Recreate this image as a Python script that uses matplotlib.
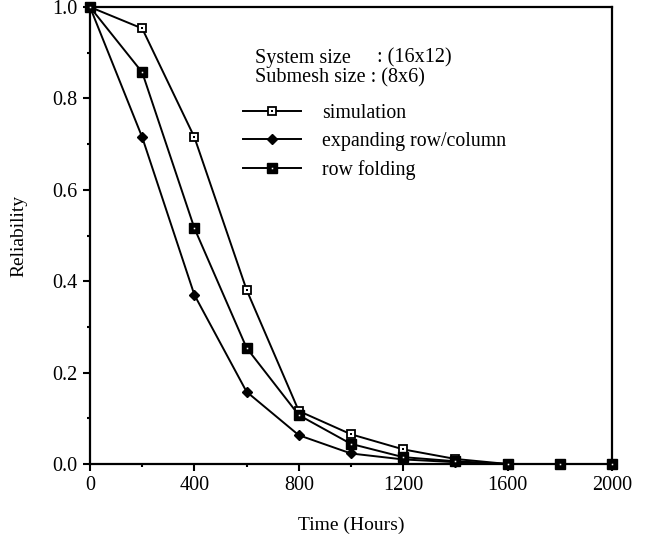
import numpy as np
from matplotlib import pyplot as plt
from matplotlib.lines import Line2D

# reliability curves, mesh 16x12, submesh 8x6
hours = [0, 200, 400, 600, 800, 1000, 1200, 1400, 1600, 1800, 2000]
simulation = [1.0, 0.953, 0.715, 0.381, 0.116, 0.065, 0.032, 0.011, 0.0, 0.0, 0.0]
expanding = [1.0, 0.715, 0.370, 0.158, 0.063, 0.023, 0.010, 0.004, 0.0, 0.0, 0.0]
folding = [1.0, 0.857, 0.516, 0.254, 0.107, 0.044, 0.015, 0.006, 0.0, 0.0, 0.0]

plt.rcParams['font.family'] = 'Liberation Serif'

fig = plt.figure(figsize=(6.52, 5.4), dpi=100)
ax = fig.add_axes([90/652, 1 - 464/540, 522/652, 457/540])

sim_style = dict(color='black', lw=1.4, marker='s', ms=6.3, mfc='white', mec='black', mew=1.3)
sim_dot = dict(ls='none', marker='s', ms=1.6, mew=0, color='black')
exp_style = dict(color='black', lw=1.4, marker='D', ms=5.5, mfc='black', mec='black')
fold_style = dict(color='black', lw=1.4, marker='s', ms=6.5, mfc='black', mec='black')
fold_dot = dict(ls='none', marker='s', ms=1.1, mew=0, color='white')

ax.plot(hours, expanding, zorder=3, clip_on=False, **exp_style)
ax.plot(hours, simulation, zorder=4, clip_on=False, **sim_style)
ax.plot(hours, simulation, zorder=5, clip_on=False, **sim_dot)
ax.plot(hours, folding, zorder=6, clip_on=False, **fold_style)
ax.plot(hours, folding, zorder=7, clip_on=False, **fold_dot)

ax.set_xlim(0, 2000)
ax.set_ylim(0, 1.0)
ax.set_xticks([0, 400, 800, 1200, 1600, 2000])
ax.set_xticks(np.arange(200, 2000, 400), minor=True)
ax.set_yticks([0.0, 0.2, 0.4, 0.6, 0.8, 1.0])
ax.set_yticks([0.1, 0.3, 0.5, 0.7, 0.9], minor=True)
ax.set_yticklabels(['0.0', '0.2', '0.4', '0.6', '0.8', '1.0'])
ax.tick_params(which='major', direction='out', length=5, width=1.5, labelsize=14.5, pad=4)
ax.tick_params(which='minor', direction='out', length=2.5, width=1.5)
for s in ax.spines.values():
    s.set_linewidth(1.6)

ax.set_xlabel('Time (Hours)', fontsize=14, labelpad=15)
ax.set_ylabel('Reliability', fontsize=14, labelpad=18)

# annotation text
ax.text((255 - 90)/522, (464 - 58)/457, 'System size', transform=ax.transAxes,
        fontsize=14.5, va='center')
ax.text((377 - 90)/522, (464 - 58)/457, ': (16x12)', transform=ax.transAxes,
        fontsize=14.5, va='center')
ax.text((255 - 90)/522, (464 - 78)/457, 'Submesh size : (8x6)', transform=ax.transAxes,
        fontsize=14.5, va='center')

# legend
h_sim = (Line2D([], [], **sim_style), Line2D([], [], **sim_dot))
h_exp = Line2D([], [], **exp_style)
h_fold = (Line2D([], [], **fold_style), Line2D([], [], **fold_dot))
ax.legend([h_sim, h_exp, h_fold], ['simulation', 'expanding row/column', 'row folding'],
          loc='upper left', bbox_to_anchor=((243 - 90)/522, (464 - 104)/457),
          frameon=False, fontsize=14.3, handlelength=2.9, handletextpad=1.1,
          labelspacing=0.45, borderaxespad=0, borderpad=0, numpoints=1)

plt.savefig('out.png', dpi=100)
